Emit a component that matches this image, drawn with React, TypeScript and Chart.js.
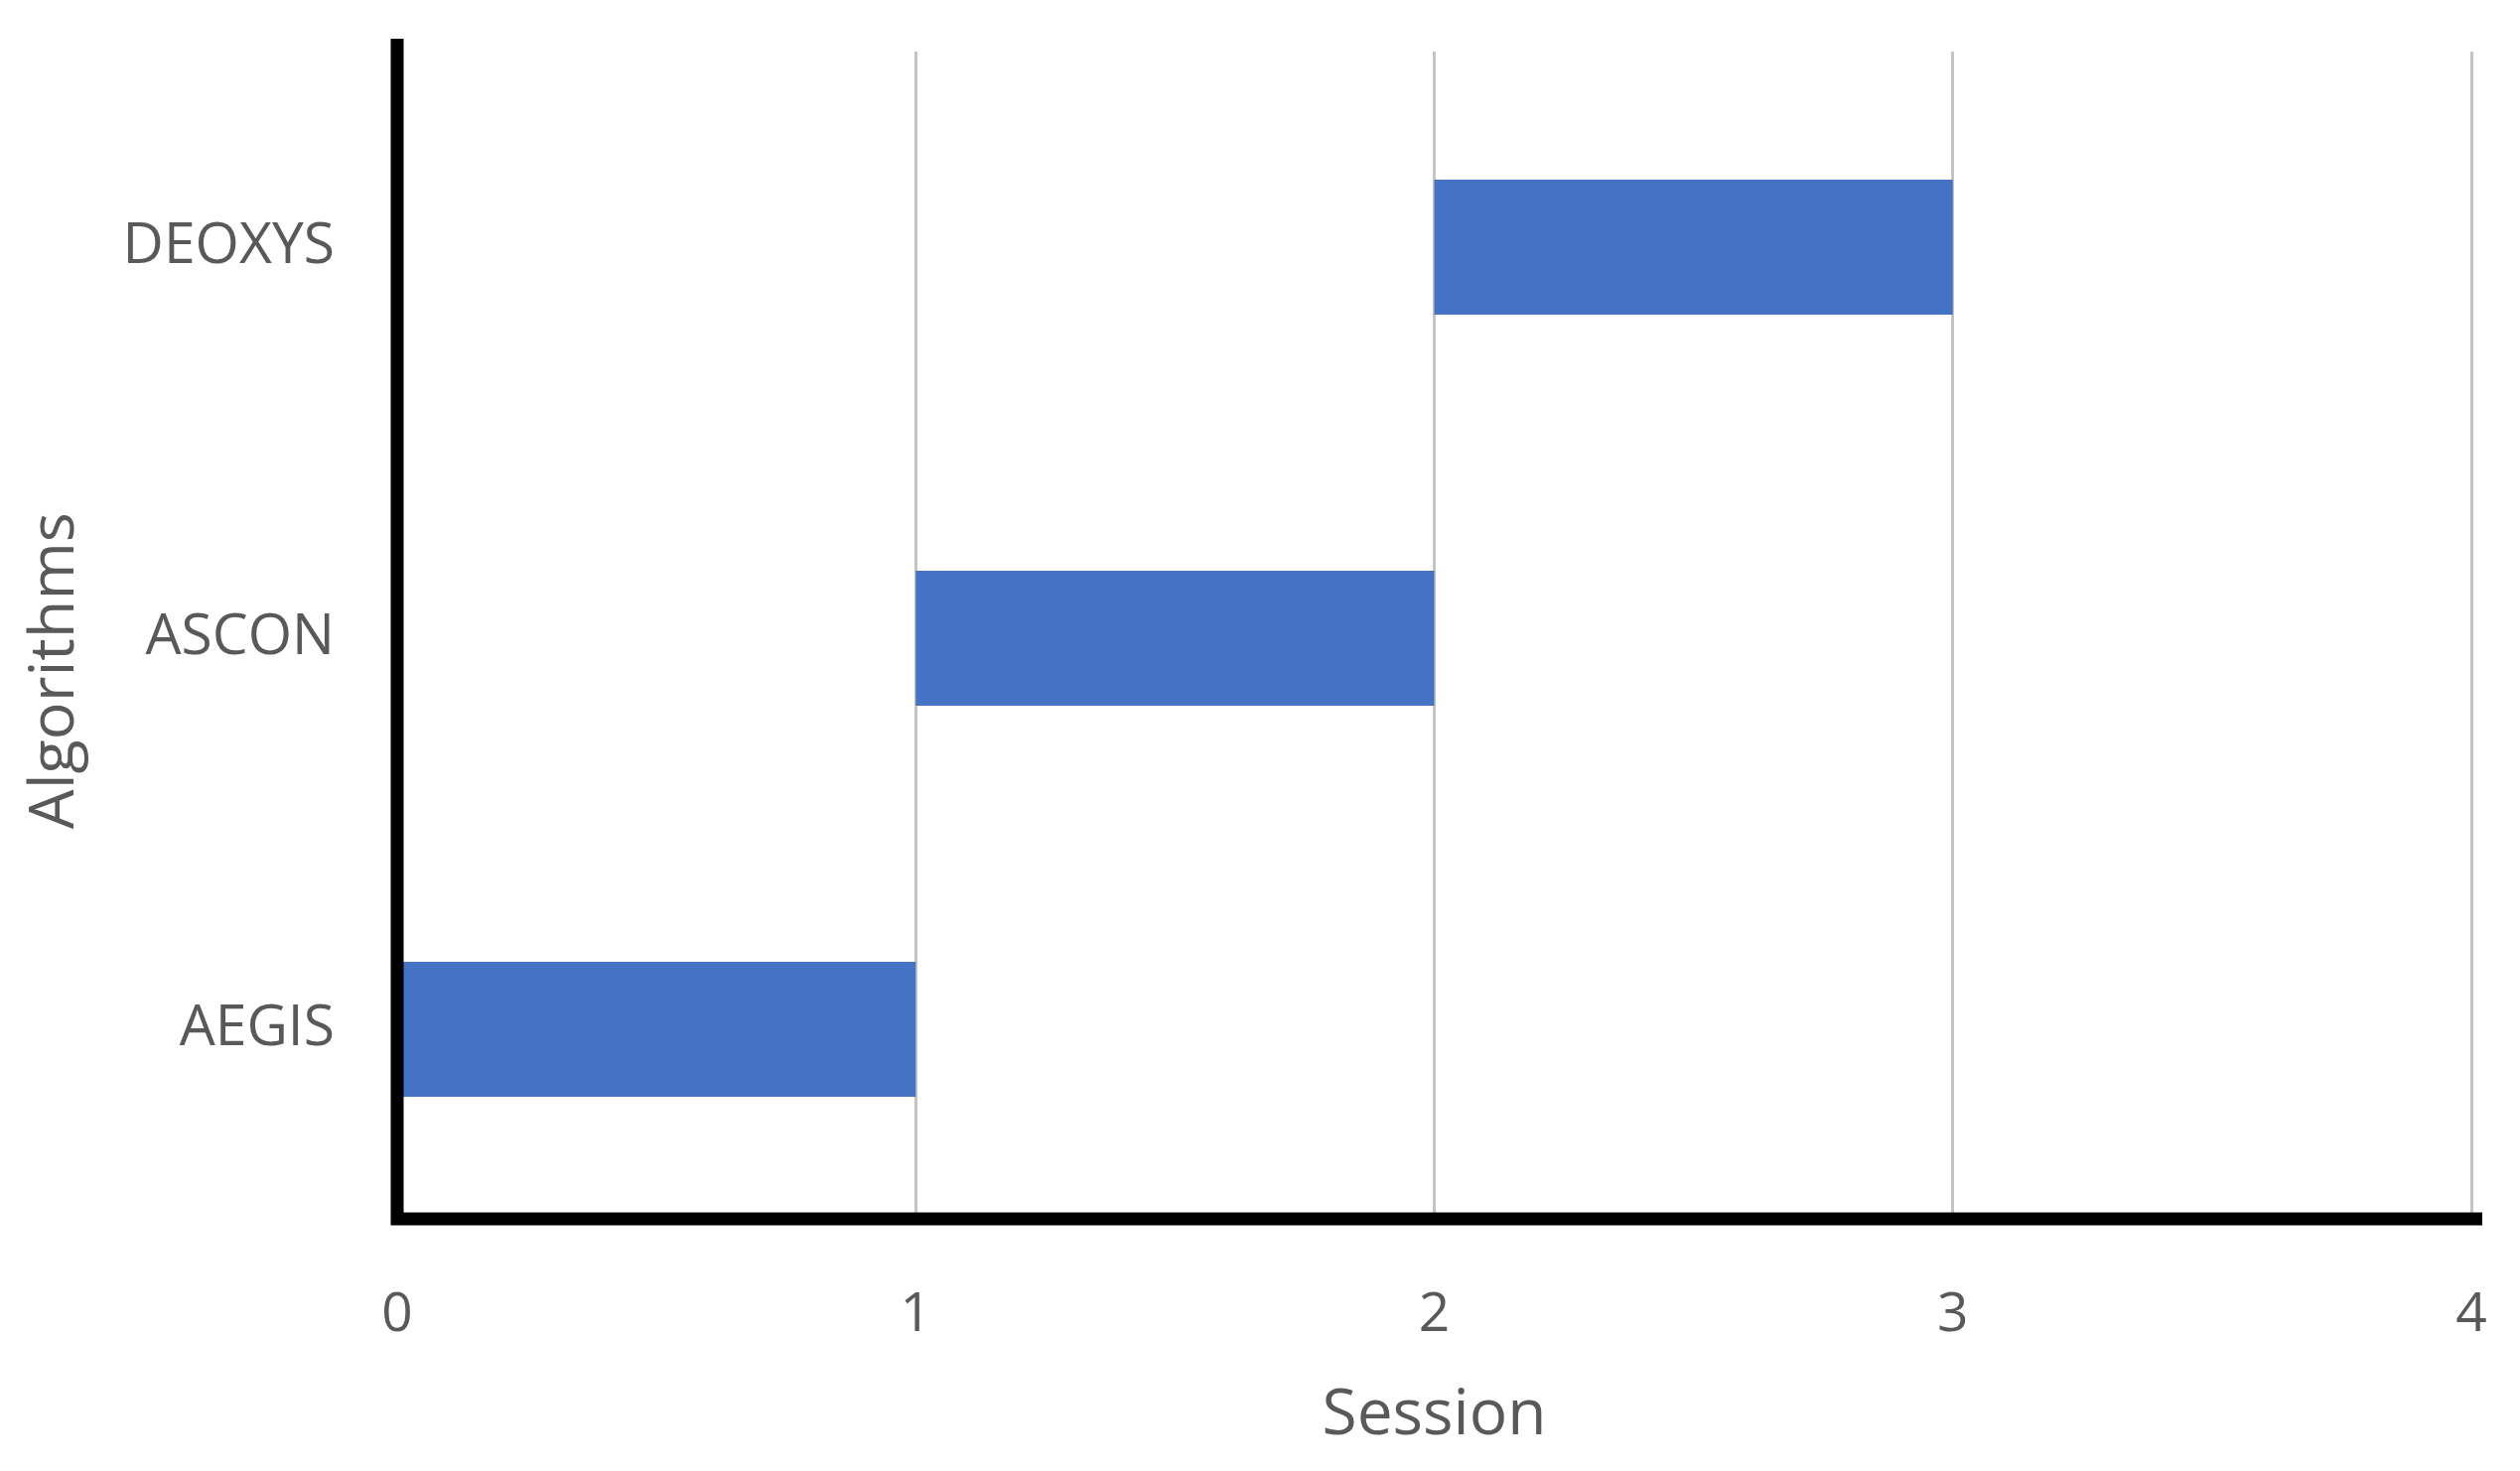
import { useEffect, useRef } from 'react';
import { Chart, registerables } from 'chart.js';

Chart.register(...registerables);

const categories = ['AEGIS', 'ASCON', 'DEOXYS'];
const sessionStart = [0, 1, 2];
const sessionEnd = [1, 2, 3];
const xMin = 0;
const xMax = 4;
const xStep = 1;

const axisLines = {
  id: 'axisLines',
  afterDatasetsDraw(chart: any) {
    const { ctx, chartArea } = chart;
    const { left, right, top, bottom } = chartArea;
    const y0 = bottom - 6;
    ctx.save();
    ctx.strokeStyle = '#000000';
    ctx.lineWidth = 13;
    ctx.lineCap = 'butt';
    ctx.lineJoin = 'miter';
    ctx.beginPath();
    ctx.moveTo(left, top - 13);
    ctx.lineTo(left, y0);
    ctx.lineTo(right + 11, y0);
    ctx.stroke();
    ctx.restore();
  },
};

export default function App() {
  const ref = useRef<HTMLCanvasElement>(null);
  useEffect(() => {
    document.body.style.margin = '0';
    const canvas = ref.current;
    if (!canvas) return;
    const chart = new Chart(canvas, {
      type: 'bar',
      data: {
        labels: categories,
        datasets: [
          {
            label: 'Session',
            data: categories.map((_, i) => [sessionStart[i], sessionEnd[i]]) as any,
            backgroundColor: '#4472C4',
            borderWidth: 0,
            barPercentage: 0.345,
            categoryPercentage: 1,
          },
        ],
      },
      options: {
        indexAxis: 'y',
        animation: false,
        responsive: false,
        maintainAspectRatio: false,
        devicePixelRatio: 1,
        layout: { padding: { top: 52, right: 49, left: 0, bottom: 0 } },
        plugins: { legend: { display: false }, tooltip: { enabled: false } },
        scales: {
          x: {
            type: 'linear',
            min: xMin,
            max: xMax,
            ticks: {
              stepSize: xStep,
              font: { family: 'Open Sans', size: 55 },
              color: '#595959',
              padding: 58,
            },
            grid: { color: '#c4c4c4', lineWidth: 3, drawTicks: false },
            border: { display: false },
            title: {
              display: true,
              text: 'Session',
              font: { family: 'Open Sans', size: 64 },
              color: '#595959',
              padding: { top: 0, bottom: 17 },
            },
            afterFit(scale: any) {
              scale.height = 248;
              scale.paddingLeft = 0;
              scale.paddingRight = 0;
              scale.paddingTop = 0;
              scale.paddingBottom = 0;
            },
          },
          y: {
            type: 'category',
            reverse: true,
            ticks: {
              font: { family: 'Open Sans', size: 57 },
              color: '#595959',
              padding: 63,
            },
            grid: { display: false, drawTicks: false },
            border: { display: false },
            title: {
              display: true,
              text: 'Algorithms    ',
              font: { family: 'Open Sans', size: 63 },
              color: '#595959',
              padding: { top: 18, bottom: 0 },
            },
            afterFit(scale: any) {
              scale.width = 400;
              scale.paddingLeft = 0;
              scale.paddingRight = 0;
              scale.paddingTop = 0;
              scale.paddingBottom = 0;
            },
          },
        },
      },
      plugins: [axisLines],
    });
    return () => chart.destroy();
  }, []);
  return <canvas ref={ref} width={2538} height={1482} style={{ display: 'block' }} />;
}
